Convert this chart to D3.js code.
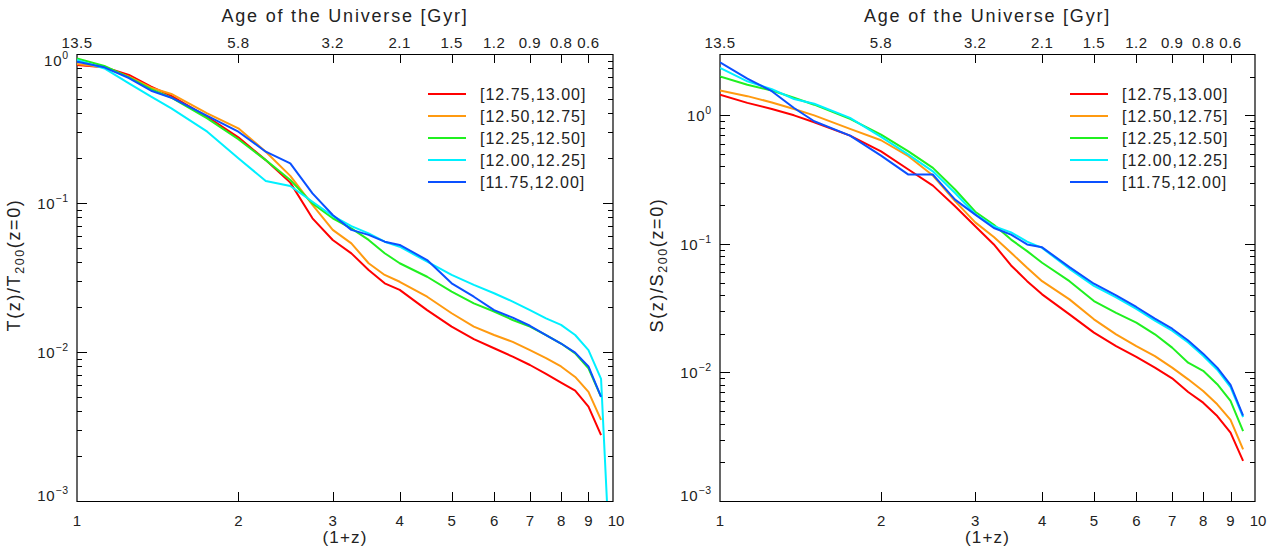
<!DOCTYPE html>
<html>
<head>
<meta charset="utf-8">
<script src="https://cdn.jsdelivr.net/npm/d3@7"></script>
<style>
  body { margin: 0; background: #fff; }
  svg { display: block; font-family: "Liberation Sans", Arial, sans-serif; }
</style>
</head>
<body>
<script>
// (1+z) sampling of the curves
var onePlusZ = [1, 1.125, 1.25, 1.375, 1.5, 1.75, 2, 2.25, 2.5, 2.75, 3, 3.25, 3.5, 3.75, 4,
                4.5, 5, 5.5, 6, 6.5, 7, 7.5, 8, 8.5, 9, 9.5, 9.75];

// age of the universe labels on the top axis, placed at (1+z) = 1..9
var ageTicks = [1, 2, 3, 4, 5, 6, 7, 8, 9];
var ageLabels = ["13.5", "5.8", "3.2", "2.1", "1.5", "1.2", "0.9", "0.8", "0.6"];
var zTicks = [1, 2, 3, 4, 5, 6, 7, 8, 9, 10];

var binNames = ["[12.75,13.00]", "[12.50,12.75]", "[12.25,12.50]", "[12.00,12.25]", "[11.75,12.00]"];
var binColors = ["#ff0000", "#ff9a10", "#20f020", "#00f0ff", "#0a50ff"];

// T(z)/T200(z=0)
var tRed    = [0.844, 0.814, 0.723, 0.604, 0.523, 0.379, 0.276, 0.194, 0.137, 0.0789, 0.0565, 0.0459, 0.0355, 0.0289, 0.0261,
               0.0191, 0.0148, 0.0122, 0.0106, 0.0093, 0.00818, 0.00712, 0.00622, 0.0055, 0.0043, 0.00277, null];
var tOrange = [0.857, 0.814, 0.705, 0.594, 0.539, 0.40, 0.317, 0.221, 0.152, 0.097, 0.066, 0.0536, 0.0394, 0.0329, 0.0296,
               0.0235, 0.0182, 0.0148, 0.0130, 0.0117, 0.0103, 0.0091, 0.0080, 0.0068, 0.0054, 0.0035, null];
var tGreen  = [0.935, 0.831, 0.697, 0.58, 0.509, 0.37, 0.268, 0.194, 0.1427, 0.0995, 0.079, 0.0676, 0.0565, 0.046, 0.0394,
               0.032, 0.0254, 0.0212, 0.0187, 0.0164, 0.0148, 0.0130, 0.0114, 0.0098, 0.00777, 0.0050, null];
var tCyan   = [0.911, 0.80, 0.636, 0.517, 0.432, 0.301, 0.1995, 0.1406, 0.130, 0.102, 0.0818, 0.070, 0.0626, 0.055, 0.0509,
               0.0404, 0.0329, 0.0282, 0.0248, 0.0218, 0.0191, 0.0168, 0.0152, 0.0130, 0.0103, 0.0066, 0.00095];
var tBlue   = [0.888, 0.814, 0.69, 0.567, 0.509, 0.384, 0.301, 0.221, 0.1846, 0.116, 0.083, 0.066, 0.0611, 0.055, 0.0523,
               0.0414, 0.0289, 0.0235, 0.0191, 0.0170, 0.0150, 0.0130, 0.0114, 0.0099, 0.0080, 0.0050, null];

// S(z)/S200(z=0)
var sRed    = [1.45, 1.25, 1.12, 1.0, 0.883, 0.695, 0.525, 0.379, 0.284, 0.196, 0.137, 0.099, 0.068, 0.0513, 0.0405,
               0.0283, 0.0204, 0.0160, 0.0132, 0.0109, 0.0090, 0.00705, 0.00582, 0.00458, 0.0034, 0.00205, null];
var sOrange = [1.56, 1.41, 1.26, 1.12, 1.0, 0.784, 0.640, 0.481, 0.340, 0.215, 0.147, 0.113, 0.0853, 0.0652, 0.0513,
               0.037, 0.0259, 0.0198, 0.016, 0.0134, 0.0109, 0.00884, 0.00717, 0.00565, 0.00427, 0.00252, null];
var sGreen  = [2.01, 1.73, 1.56, 1.37, 1.21, 0.94, 0.708, 0.525, 0.39, 0.265, 0.178, 0.141, 0.108, 0.0878, 0.0713,
               0.0513, 0.0359, 0.0291, 0.0244, 0.0198, 0.0156, 0.0119, 0.0103, 0.0081, 0.0060, 0.0035, null];
var sCyan   = [2.34, 1.84, 1.60, 1.34, 1.23, 0.955, 0.68, 0.495, 0.367, 0.249, 0.17, 0.137, 0.123, 0.104, 0.093,
               0.0640, 0.0472, 0.0384, 0.0312, 0.0253, 0.0211, 0.0171, 0.0135, 0.0105, 0.0077, 0.00450, null];
var sBlue   = [2.58, 1.93, 1.54, 1.14, 0.90, 0.695, 0.486, 0.346, 0.346, 0.221, 0.169, 0.133, 0.118, 0.099, 0.094,
               0.0660, 0.0490, 0.0398, 0.0323, 0.0262, 0.0219, 0.0177, 0.0140, 0.0109, 0.0080, 0.00462, null];

var width = 1270, height = 550;
var plotTop = 54, plotBottom = 501;

var svg = d3.select("body").append("svg")
    .attr("width", width)
    .attr("height", height);

var panels = [
    { left: 77, right: 613, ymax: 1, letter: "T", series: [tRed, tOrange, tGreen, tCyan, tBlue], titleX: 20 },
    { left: 720, right: 1255, ymax: 3, letter: "S", series: [sRed, sOrange, sGreen, sCyan, sBlue], titleX: 663 }
];

panels.forEach(function (p, pi) {
    var g = svg.append("g");

    var x = d3.scaleLog().domain([1, 10]).range([p.left, p.right]);
    var y = d3.scaleLog().domain([1e-3, p.ymax]).range([plotBottom, plotTop]);

    var clipId = "clip" + pi;
    svg.append("clipPath").attr("id", clipId)
        .append("rect")
        .attr("x", p.left).attr("y", plotTop)
        .attr("width", p.right - p.left).attr("height", plotBottom - plotTop);

    // minor/major y ticks, both sides, pointing inward
    var minors = [], majors = [];
    for (var e = -3; e <= 0; e++) {
        majors.push(Math.pow(10, e));
        for (var m = 2; m <= 9; m++) {
            var v = m * Math.pow(10, e);
            if (v <= p.ymax * 1.0001) minors.push(v);
        }
    }
    var yTicks = g.append("g").attr("stroke", "#000").attr("stroke-width", 1);
    [[p.left, 1], [p.right, -1]].forEach(function (side) {
        yTicks.selectAll(null).data(majors).enter().append("line")
            .attr("x1", side[0]).attr("x2", side[0] + side[1] * 10)
            .attr("y1", function (d) { return Math.round(y(d)) + 0.5; })
            .attr("y2", function (d) { return Math.round(y(d)) + 0.5; });
        yTicks.selectAll(null).data(minors).enter().append("line")
            .attr("x1", side[0]).attr("x2", side[0] + side[1] * 5)
            .attr("y1", function (d) { return Math.round(y(d)) + 0.5; })
            .attr("y2", function (d) { return Math.round(y(d)) + 0.5; });
    });

    // x ticks on bottom and top
    var inner = zTicks.slice(1, 9);
    g.append("g").attr("stroke", "#000").selectAll(null).data(inner).enter().append("line")
        .attr("x1", function (d) { return Math.round(x(d)) + 0.5; })
        .attr("x2", function (d) { return Math.round(x(d)) + 0.5; })
        .attr("y1", plotBottom).attr("y2", plotBottom - 9);
    g.append("g").attr("stroke", "#000").selectAll(null).data(inner).enter().append("line")
        .attr("x1", function (d) { return Math.round(x(d)) + 0.5; })
        .attr("x2", function (d) { return Math.round(x(d)) + 0.5; })
        .attr("y1", plotTop).attr("y2", plotTop + 9);

    // frame: crisp horizontals, softer verticals
    var frame = g.append("g").attr("stroke", "#000");
    frame.append("line").attr("x1", p.left).attr("x2", p.right)
        .attr("y1", plotTop + 0.5).attr("y2", plotTop + 0.5).attr("stroke-width", 1.2);
    frame.append("line").attr("x1", p.left).attr("x2", p.right)
        .attr("y1", plotBottom + 0.5).attr("y2", plotBottom + 0.5).attr("stroke-width", 1.2);
    frame.append("line").attr("x1", p.left).attr("x2", p.left)
        .attr("y1", plotTop).attr("y2", plotBottom + 1).attr("stroke-width", 1.2);
    frame.append("line").attr("x1", p.right).attr("x2", p.right)
        .attr("y1", plotTop).attr("y2", plotBottom + 1).attr("stroke-width", 1.2);

    // y labels 10^n
    var ylab = g.append("g").attr("font-size", 15).attr("fill", "#222");
    majors.forEach(function (d) {
        var ty = y(d);
        if (ty < plotTop + 6) ty = plotTop + 6;
        if (ty > plotBottom - 6) ty = plotBottom - 6;
        var t = ylab.append("text")
            .attr("x", p.left - 8)
            .attr("y", ty + 6)
            .attr("text-anchor", "end")
            .attr("letter-spacing", 0.8);
        t.append("tspan").text("10");
        t.append("tspan").attr("font-size", 10.5).attr("dy", -7)
            .text(Math.log10(d) === 0 ? "0" : "\u2212" + (-Math.round(Math.log10(d))));
    });

    // bottom labels
    g.append("g").attr("font-size", 15).attr("fill", "#222").attr("text-anchor", "middle")
        .selectAll("text").data(zTicks).enter().append("text")
        .attr("x", function (d) { return x(d) + (d === 10 ? 3 : 0); })
        .attr("y", 526)
        .text(function (d) { return d; });

    g.append("text")
        .attr("x", x(Math.sqrt(10)))
        .attr("y", 543)
        .attr("text-anchor", "middle")
        .attr("font-size", 17)
        .attr("letter-spacing", 1.2)
        .attr("fill", "#222")
        .text("(1+z)");

    // top (age) labels
    g.append("g").attr("font-size", 15).attr("fill", "#222").attr("text-anchor", "middle")
        .attr("letter-spacing", 0.5)
        .selectAll("text").data(ageTicks).enter().append("text")
        .attr("x", function (d) { return x(d); })
        .attr("y", 48)
        .text(function (d, i) { return ageLabels[i]; });

    g.append("text")
        .attr("x", (p.left + p.right) / 2)
        .attr("y", 22)
        .attr("text-anchor", "middle")
        .attr("font-size", 18)
        .attr("letter-spacing", 1.8)
        .attr("fill", "#222")
        .text("Age of the Universe [Gyr]");

    // y title
    var yt = g.append("text")
        .attr("transform", "translate(" + p.titleX + ",265) rotate(-90)")
        .attr("text-anchor", "middle")
        .attr("font-size", 18)
        .attr("letter-spacing", 1.6)
        .attr("fill", "#222");
    yt.append("tspan").text(p.letter + "(z)/" + p.letter);
    yt.append("tspan").attr("font-size", 12.5).attr("dy", 4).text("200");
    yt.append("tspan").attr("dy", -4).text("(z=0)");

    // lines
    var line = d3.line()
        .defined(function (d) { return d[1] != null; })
        .x(function (d) { return x(d[0]); })
        .y(function (d) { return y(d[1]); });

    var lines = g.append("g").attr("clip-path", "url(#" + clipId + ")");
    p.series.forEach(function (vals, i) {
        lines.append("path")
            .datum(onePlusZ.map(function (z, k) { return [z, vals[k]]; }))
            .attr("fill", "none")
            .attr("stroke", binColors[i])
            .attr("stroke-width", 2)
            .attr("stroke-linejoin", "round")
            .attr("d", line);
    });

    // legend
    var lx = p.right - 185;
    var leg = g.append("g");
    binNames.forEach(function (name, i) {
        var ly = 94 + i * 22;
        leg.append("line")
            .attr("x1", lx).attr("x2", lx + 38)
            .attr("y1", ly).attr("y2", ly)
            .attr("stroke", binColors[i]).attr("stroke-width", 2);
        leg.append("text")
            .attr("x", lx + 52).attr("y", ly + 6)
            .attr("font-size", 16)
            .attr("letter-spacing", 1)
            .attr("fill", "#222")
            .text(name);
    });
});
</script>
</body>
</html>
